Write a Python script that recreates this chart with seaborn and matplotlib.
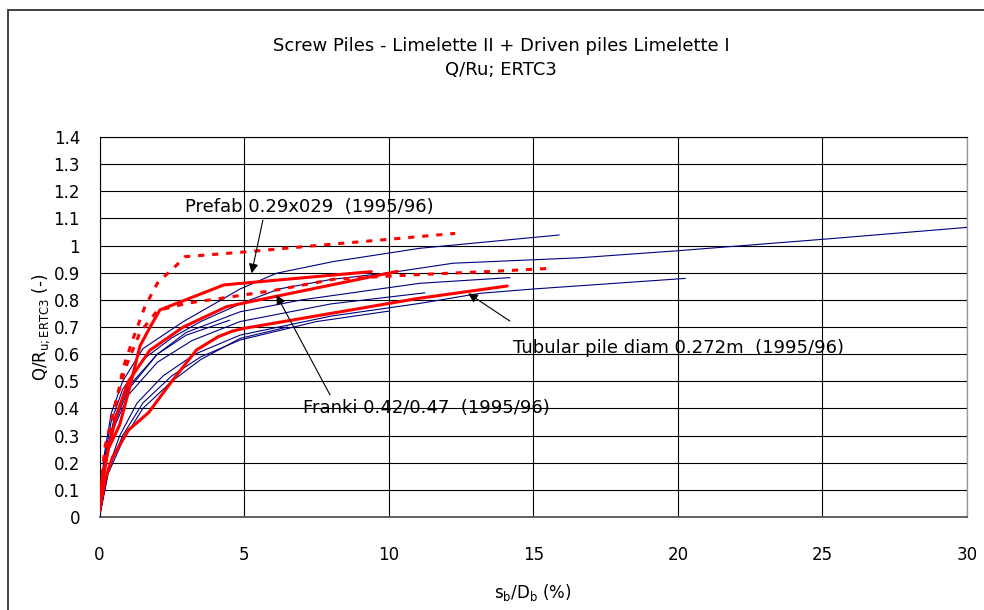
import matplotlib
matplotlib.use("Agg")
import matplotlib.pyplot as plt
import seaborn as sns
import pandas as pd
from matplotlib.patches import Rectangle

# ---------------- data ----------------
title_lines = ["Screw Piles - Limelette II + Driven piles Limelette I", "Q/Ru; ERTC3"]
x_label = r"s$_{b}$/D$_{b}$ (%)"
y_label = r"Q/R$_{u;ERTC3}$ (-)"

# red solid: Prefab 0.29x029 (upper)
prefab_x = [0, 0.1, 0.3, 0.7, 1.05, 1.4, 1.75, 2.09, 4.3, 9.4]
prefab_y = [0.03, 0.15, 0.25, 0.34, 0.48, 0.63, 0.70, 0.763, 0.855, 0.904]
# red solid: Franki 0.42/0.47 (middle)
franki_x = [0, 0.1, 0.3, 0.6, 1.0, 1.74, 2.9, 4.4, 5.2, 10.3]
franki_y = [0.03, 0.12, 0.25, 0.38, 0.50, 0.614, 0.70, 0.775, 0.793, 0.905]
# red solid: Tubular pile diam 0.272m (lower)
tubular_x = [0, 0.2, 0.45, 1.0, 1.7, 2.5, 3.35, 4.1, 4.6, 5.0, 8.0, 11.0, 14.1]
tubular_y = [0.02, 0.14, 0.22, 0.32, 0.385, 0.50, 0.615, 0.664, 0.685, 0.695, 0.75, 0.805, 0.851]
# red dashed (upper)
dash1_x = [0, 0.19, 0.48, 0.71, 0.82, 1.17, 1.57, 2.03, 2.5, 2.95, 5.2, 7.7, 10.0, 12.3]
dash1_y = [0.05, 0.26, 0.38, 0.49, 0.55, 0.66, 0.775, 0.867, 0.91, 0.959, 0.978, 1.002, 1.023, 1.045]
# red dashed (lower)
dash2_x = [0, 0.2, 0.5, 0.9, 1.4, 2.0, 3.0, 4.6, 6.1, 8.1, 9.6, 11.2, 13.4, 15.6]
dash2_y = [0.05, 0.25, 0.40, 0.55, 0.68, 0.76, 0.787, 0.812, 0.836, 0.876, 0.885, 0.894, 0.904, 0.916]

# thin navy lines: screw piles
blue_x = [
    [0, 0.15, 0.4, 0.8, 1.5, 2.5, 3.5, 4.86, 6.2, 8.0, 10.04, 12.23, 16.6, 20.0, 25.0, 30.0],
    [0, 0.15, 0.4, 0.8, 1.5, 2.9, 4.05, 4.86, 6.12, 8.08, 11.08, 15.9],
    [0, 0.2, 0.5, 1.0, 2.0, 3.0, 4.86, 7.0, 11.08, 14.2],
    [0, 0.3, 0.7, 1.3, 2.2, 3.3, 4.86, 8.0, 11.08, 13.15, 15.0, 20.26],
    [0, 0.2, 0.5, 1.0, 2.0, 3.2, 4.86, 8.0, 11.25],
    [0, 0.3, 0.8, 1.5, 2.5, 3.5, 4.86, 7.5, 10.04],
    [0, 0.2, 0.5, 1.0, 2.0, 3.0, 4.5],
    [0, 0.3, 0.8, 1.5, 2.5, 3.5, 4.86, 6.5],
]
blue_y = [
    [0, 0.20, 0.35, 0.47, 0.58, 0.66, 0.72, 0.785, 0.84, 0.875, 0.90, 0.935, 0.955, 0.981, 1.023, 1.067],
    [0, 0.22, 0.38, 0.50, 0.62, 0.72, 0.79, 0.84, 0.898, 0.941, 0.99, 1.039],
    [0, 0.20, 0.34, 0.47, 0.60, 0.68, 0.756, 0.80, 0.861, 0.882],
    [0, 0.18, 0.30, 0.42, 0.52, 0.60, 0.67, 0.74, 0.787, 0.824, 0.84, 0.879],
    [0, 0.20, 0.33, 0.45, 0.57, 0.65, 0.72, 0.785, 0.826],
    [0, 0.17, 0.30, 0.42, 0.52, 0.59, 0.652, 0.72, 0.759],
    [0, 0.22, 0.36, 0.48, 0.60, 0.67, 0.725],
    [0, 0.16, 0.28, 0.40, 0.50, 0.58, 0.658, 0.70],
]

annot_texts = ["Prefab 0.29x029  (1995/96)", "Franki 0.42/0.47  (1995/96)",
               "Tubular pile diam 0.272m  (1995/96)"]
annot_text_pos = [(2.96, 1.142), (7.03, 0.402), (14.29, 0.623)]
annot_tail = [(5.65, 1.094), (7.97, 0.45), (14.19, 0.722)]
annot_tip = [(5.26, 0.898), (6.12, 0.818), (12.75, 0.824)]

x_ticks = [0, 5, 10, 15, 20, 25, 30]
y_ticks = [round(0.1 * i, 1) for i in range(15)]

# ---------------- figure ----------------
sns.set_theme(style="white")
plt.rcParams["font.family"] = ["DejaVu Sans"]
plt.rcParams["mathtext.default"] = "regular"
plt.rcParams["text.color"] = "black"
plt.rcParams["axes.labelcolor"] = "black"
FS = 12
FS_BIG = 13

fig = plt.figure(figsize=(9.84, 6.10), dpi=100)
W, H = 984, 610
ax = fig.add_axes([99.5 / W, 1 - 517 / H, (967 - 99.5) / W, (517 - 137) / H])

# figure frame (chart area border)
fig.patches.append(Rectangle((8 / W, -0.05), 1.2, 1 - 10 / H + 0.05,
                             transform=fig.transFigure, fill=False,
                             edgecolor="#333333", lw=1.3, zorder=0))

for xs, ys in zip(blue_x, blue_y):
    sns.lineplot(x=xs, y=ys, ax=ax, color="#000080", lw=0.8, sort=False,
                 estimator=None, zorder=3)

for xs, ys in [(prefab_x, prefab_y), (franki_x, franki_y), (tubular_x, tubular_y)]:
    sns.lineplot(x=xs, y=ys, ax=ax, color="#ff0000", lw=2.2, sort=False,
                 estimator=None, zorder=4)

for xs, ys in [(dash1_x, dash1_y), (dash2_x, dash2_y)]:
    ln = sns.lineplot(x=xs, y=ys, ax=ax, color="#ff0000", lw=2.2, sort=False,
                      estimator=None, zorder=4).lines[-1]
    ln.set_dashes((2.0, 2.6))

for txt, pos, tail, tip in zip(annot_texts, annot_text_pos, annot_tail, annot_tip):
    ax.text(pos[0], pos[1], txt, fontsize=FS_BIG, ha="left", va="center", color="black",
            zorder=6)
    ax.annotate("", xy=tip, xytext=tail,
                arrowprops=dict(arrowstyle="-|>", color="black", lw=0.8,
                                mutation_scale=14, shrinkA=0, shrinkB=0),
                zorder=6)

ax.set_xlim(0, 30)
ax.set_ylim(0, 1.4)
ax.set_xticks(x_ticks)
ax.set_yticks(y_ticks)
ax.set_xticklabels([f"{t:g}" for t in x_ticks])
ax.set_yticklabels([f"{t:g}" for t in y_ticks])
ax.grid(True, color="black", lw=0.8)
ax.set_axisbelow(True)
ax.tick_params(axis="both", direction="out", length=4, width=0.8, color="black",
               labelsize=FS, labelcolor="black")
ax.tick_params(axis="x", pad=17)
ax.tick_params(axis="y", pad=10)
for s in ["left", "top"]:
    ax.spines[s].set_color("black")
    ax.spines[s].set_linewidth(0.8)
ax.spines["bottom"].set_color("#555555")
ax.spines["bottom"].set_linewidth(1.3)
ax.spines["right"].set_color("#999999")
ax.spines["right"].set_linewidth(1.0)

ax.set_xlabel(x_label, fontsize=FS, labelpad=13, color="black")
ax.set_ylabel(y_label, fontsize=FS, labelpad=1, color="black")

fig.text(501 / W, 1 - 46 / H, title_lines[0], ha="center", va="center",
         fontsize=FS_BIG, color="black")
fig.text(501 / W, 1 - 70 / H, title_lines[1], ha="center", va="center",
         fontsize=FS_BIG, color="black")

fig.savefig("out.png", dpi=100)
